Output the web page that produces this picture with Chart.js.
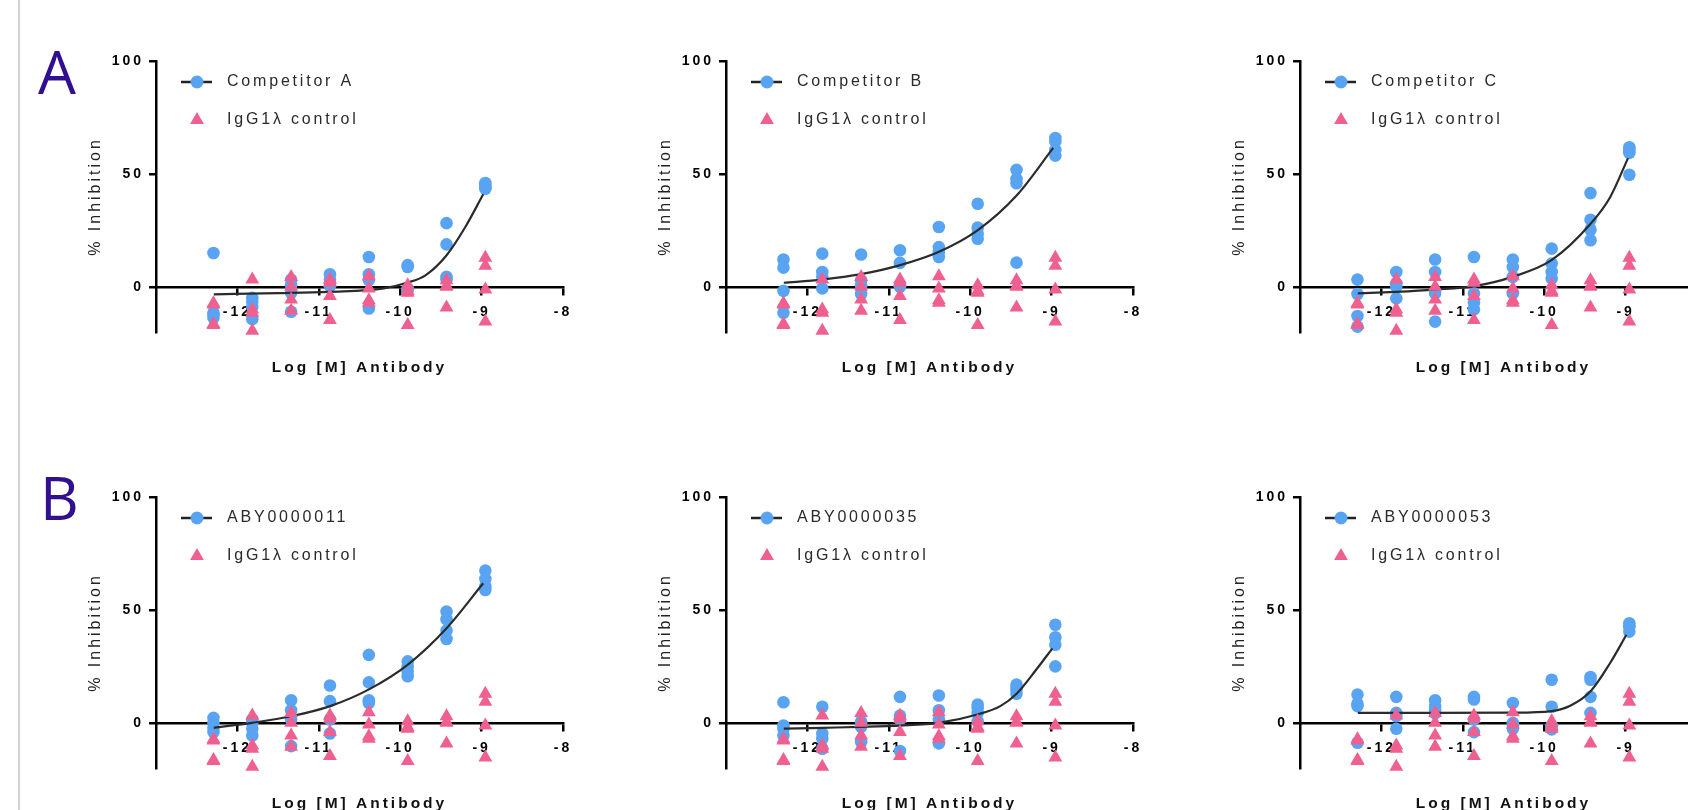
<!DOCTYPE html>
<html>
<head>
<meta charset="utf-8">
<script src="https://cdn.jsdelivr.net/npm/chart.js@4.4.1/dist/chart.umd.min.js"></script>
<style>
  html, body { margin: 0; padding: 0; width: 1688px; height: 810px; overflow: hidden; background: #fff; }
  #rule { position: absolute; left: 18px; top: 0; width: 2px; height: 810px; background: #d2d2d2; }
  .tag { position: absolute; font-family: "Open Sans", sans-serif; font-size: 60px; line-height: 60px; color: #31108f; }
  canvas { position: absolute; }
</style>
</head>
<body>
<div id="rule"></div>
<div class="tag" style="left:38px; top:41px;">A</div>
<div class="tag" style="left:40px; top:467px;">B</div>

<canvas id="cA" width="522" height="346" style="left:66px; top:46px; width:522px; height:346px;"></canvas>
<canvas id="cB" width="522" height="346" style="left:636px; top:46px; width:522px; height:346px;"></canvas>
<canvas id="cC" width="522" height="346" style="left:1210px; top:46px; width:522px; height:346px;"></canvas>
<canvas id="cD" width="522" height="346" style="left:66px; top:482px; width:522px; height:346px;"></canvas>
<canvas id="cE" width="522" height="346" style="left:636px; top:482px; width:522px; height:346px;"></canvas>
<canvas id="cF" width="522" height="346" style="left:1210px; top:482px; width:522px; height:346px;"></canvas>

<script>
// log molar concentrations (3-fold dilutions)
const xConc = [-12.294, -11.817, -11.340, -10.863, -10.385, -9.908, -9.431, -8.954];
const xTicks = [-12, -11, -10, -9, -8];
const yTicks = [0, 50, 100];

const panelNames = ['Competitor A', 'Competitor B', 'Competitor C', 'ABY0000011', 'ABY0000035', 'ABY0000053'];
const controlName = 'IgG1λ control';

// % inhibition replicates per concentration
const compA = [[15, -11.5, -12.5, -13.7], [-4.9, -6.6, -8.8, -14.3], [3.2, 0.7, -2.6, -11], [5.6, 3.2, 1.8, 0.5],
  [13.2, 5.6, 3, -9.6], [9.6, 8.8, -0.7, -1.5], [28.2, 18.8, 4.4, 3.2], [46, 45, 44, 43.4]];
const compB = [[12.1, 8.5, -1.8, -11.5], [14.7, 6.6, 4.5, -0.7], [14.3, 2.9, 0.4, -3.2], [16.2, 10.6, 0.7, 0],
  [26.5, 17.6, 15.4, 13.2], [36.8, 26.2, 23.5, 21.3], [51.8, 47.8, 45.9, 10.7], [65.9, 64.4, 60.6, 58.1]];
const compC = [[3.2, -3.2, -12.9, -17.6], [6.6, 1.5, 0, -5.1], [12.1, 6.6, -2.9, -15.4], [13.2, -2.9, -7.1, -10],
  [12.1, 8.8, 4.4, -2.9], [16.9, 10.3, 6.6, 3.7], [41.5, 29.7, 25.3, 20.6], [61.8, 60.5, 59.3, 49.6]];
const aby11 = [[2.2, 0, -2.2, -4.1], [1.5, 0, -2.6, -5.6], [10, 5.6, 1.5, -10.3], [16.5, 9.6, 1.5, -4.7],
  [30.1, 17.9, 10, 8.8], [27.2, 25, 22.8, 20.6], [49.3, 45.9, 40.9, 37.1], [67.4, 63.7, 60.5, 58.8]];
const aby35 = [[9.1, -1.2, -2.6, -5.6], [7.1, -4.7, -7.1, -11.5], [0.5, 0, -1.8, -8.5], [11.5, 3.2, 1.5, -12.5],
  [12.1, 5.6, 1.5, -9.1], [8.1, 6.6, 4.4, 0.7], [16.9, 15.5, 14.7, 12.9], [43.4, 37.9, 34.6, 25]];
const aby53 = [[12.5, 8.5, 7.4, -8.8], [11.5, 4.4, 3, -2.6], [10, 7.4, 5.6, 4.2], [11.5, 10.3, 1.5, -4.1],
  [8.8, 0, -1, -2.6], [19.1, 7.1, -1.5, -2.9], [20.3, 19.1, 11.5, 4.4], [44.1, 43, 42.4, 40.4]];
const control = [[-7.3, -7.8, -16.5, -16.9], [3.2, -10, -11.5, -19.4], [4.4, 0, -5.6, -10.6], [3.2, 1.8, -4.1, -14.7],
  [4.7, -0.7, -5.9, -7.1], [0.7, -1.8, -2.6, -16.9], [2.9, 0.4, 0, -9.1], [12.9, 9.3, -1.2, -15.4]];

// fitted curves as [log M, %]
const fitA = [[-12.29, -3.3], [-11.5, -2.8], [-10.87, -2.2], [-10.2, -0.7], [-9.92, 1.8], [-9.69, 5.1], [-9.43, 14], [-9.2, 26.5], [-8.98, 41]];
const fitB = [[-12.29, 1.8], [-11.82, 3.2], [-11.34, 5.6], [-10.86, 9.6], [-10.39, 15.4], [-9.91, 25], [-9.43, 40.4], [-8.98, 61.5]];
const fitC = [[-12.29, -2.9], [-11.82, -2.2], [-11.34, -1.2], [-10.86, 0.3], [-10.39, 4.4], [-9.91, 11.8], [-9.43, 27.9], [-9.19, 39.7], [-8.97, 57]];
const fitD = [[-12.29, -2.2], [-11.82, 0], [-11.34, 2.9], [-10.86, 7.4], [-10.39, 14.7], [-9.91, 25.7], [-9.43, 41.9], [-8.98, 61.8]];
const fitE = [[-12.29, -2.6], [-11.82, -2.2], [-11.34, -1.8], [-10.86, -1.2], [-10.39, 0], [-9.91, 3.7], [-9.63, 7.4], [-9.43, 12.9], [-9.19, 23.5], [-8.99, 33]];
const fitF = [[-12.29, 4.4], [-11.34, 4.4], [-10.39, 4.5], [-9.91, 5.2], [-9.68, 7.6], [-9.43, 14], [-9.19, 26.5], [-8.99, 39]];

const FONT = 'Arial, "Liberation Sans", Helvetica, sans-serif';
const BLUE = '#58a4f3';
const PINK = '#ef6090';
const SPACING = '3px';

// wide letter spacing like the original figure
Chart.register({
  id: 'spacing',
  beforeLayout(chart) { chart.ctx.letterSpacing = SPACING; },
  beforeDraw(chart) { chart.ctx.letterSpacing = SPACING; }
});

// legend inside the plot, top left
const insideLegend = {
  id: 'insideLegend',
  afterDraw(chart) {
    const { ctx, chartArea } = chart;
    const x0 = chartArea.left, y0 = chartArea.top;
    const series = chart.data.datasets[2], ctrl = chart.data.datasets[0];
    ctx.save();
    ctx.letterSpacing = '2.8px';
    ctx.strokeStyle = '#222';
    ctx.lineWidth = 2.5;
    ctx.beginPath();
    ctx.moveTo(x0 + 25, y0 + 21);
    ctx.lineTo(x0 + 56, y0 + 21);
    ctx.stroke();
    ctx.fillStyle = BLUE;
    Chart.helpers.drawPoint(ctx, { pointStyle: 'circle', radius: 6.5, borderWidth: 0, rotation: 0 }, x0 + 41, y0 + 21);
    ctx.fillStyle = PINK;
    Chart.helpers.drawPoint(ctx, { pointStyle: 'triangle', radius: 8, borderWidth: 0, rotation: 0 }, x0 + 41, y0 + 59);
    ctx.fillStyle = '#2a2a2a';
    ctx.font = '16px ' + FONT;
    ctx.textBaseline = 'middle';
    ctx.textAlign = 'left';
    ctx.fillText(series.label, x0 + 71, y0 + 21);
    ctx.fillText(ctrl.label, x0 + 71, y0 + 59);
    ctx.restore();
  }
};

function toPoints(reps) {
  const pts = [];
  reps.forEach((col, i) => col.forEach(v => pts.push({ x: xConc[i], y: v })));
  return pts;
}

function makeChart(id, name, reps, fit) {
  return new Chart(document.getElementById(id), {
    type: 'scatter',
    data: {
      datasets: [
        {
          label: controlName,
          data: toPoints(control),
          pointStyle: 'triangle',
          pointRadius: 8,
          pointBackgroundColor: PINK,
          pointBorderWidth: 0,
          order: 0,
          clip: false
        },
        {
          label: name + ' fit',
          data: fit.map(([x, y]) => ({ x, y })),
          showLine: true,
          borderColor: '#2b2b2b',
          borderWidth: 2.2,
          pointRadius: 0,
          cubicInterpolationMode: 'monotone',
          order: 1,
          clip: false
        },
        {
          label: name,
          data: toPoints(reps),
          pointStyle: 'circle',
          pointRadius: 6.3,
          pointBackgroundColor: BLUE,
          pointBorderWidth: 0,
          order: 2,
          clip: false
        }
      ]
    },
    options: {
      responsive: false,
      animation: false,
      events: [],
      layout: { padding: { left: 15, top: 15, right: 25, bottom: 60 } },
      plugins: { legend: { display: false }, tooltip: { enabled: false } },
      scales: {
        x: {
          type: 'linear',
          min: -13,
          max: -8,
          position: { y: 0 },
          afterBuildTicks: s => { s.ticks = xTicks.map(v => ({ value: v })); },
          afterFit: s => { s.paddingLeft = 0; s.paddingRight = 0; },
          border: { display: true, color: '#000', width: 2.5 },
          grid: { drawOnChartArea: false, drawTicks: true, tickLength: 7, color: '#000', lineWidth: 2.5 },
          ticks: {
            padding: 10, color: '#000', autoSkip: false, maxRotation: 0,
            font: { family: FONT, size: 14, weight: 'bold' },
            callback: v => String(v)
          },
          title: {
            display: true, text: 'Log [M] Antibody', color: '#111',
            font: { family: FONT, size: 15.5, weight: 'bold' },
            padding: { top: 28, bottom: 0 }
          }
        },
        y: {
          type: 'linear',
          min: -20,
          max: 100,
          position: 'left',
          afterBuildTicks: s => { s.ticks = yTicks.map(v => ({ value: v })); },
          afterFit: s => { s.width = 75; s.paddingTop = 0; s.paddingBottom = 0; },
          border: { display: true, color: '#000', width: 2.5 },
          grid: { drawOnChartArea: false, drawTicks: true, tickLength: 7, color: '#000', lineWidth: 2.5 },
          ticks: {
            padding: 5, color: '#000',
            font: { family: FONT, size: 14, weight: 'bold' },
            callback: v => String(v)
          },
          title: {
            display: true, text: '% Inhibition', color: '#222',
            font: { family: FONT, size: 16 },
            padding: { top: 5, bottom: 0 }
          }
        }
      }
    },
    plugins: [insideLegend]
  });
}

makeChart('cA', panelNames[0], compA, fitA);
makeChart('cB', panelNames[1], compB, fitB);
makeChart('cC', panelNames[2], compC, fitC);
makeChart('cD', panelNames[3], aby11, fitD);
makeChart('cE', panelNames[4], aby35, fitE);
makeChart('cF', panelNames[5], aby53, fitF);
</script>
</body>
</html>
